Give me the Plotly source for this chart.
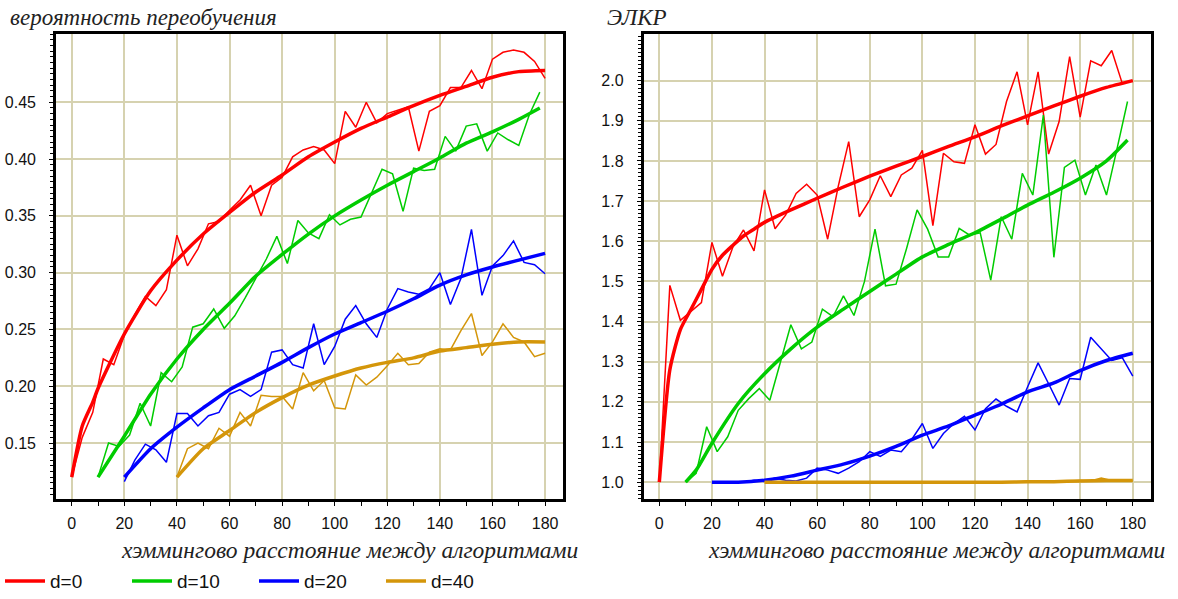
import plotly.graph_objects as go

# --- data ---
# left panel: overfitting probability, right panel: ELKR
x_d0 = list(range(0, 181, 4))
x_d10 = list(range(10, 179, 4))
x_d20 = list(range(20, 181, 4))
x_d40 = list(range(40, 181, 4))

p_d0 = [0.12, 0.155, 0.177, 0.224, 0.219, 0.245, 0.263, 0.279, 0.271, 0.285,
        0.333, 0.306, 0.321, 0.343, 0.345, 0.355, 0.364, 0.377, 0.350, 0.377,
        0.384, 0.402, 0.408, 0.411, 0.408, 0.396, 0.442, 0.428, 0.450, 0.432,
        0.440, 0.443, 0.446, 0.407, 0.442, 0.447, 0.463, 0.463, 0.478, 0.462,
        0.488, 0.494, 0.496, 0.494, 0.486, 0.471]
p_d10 = [0.12, 0.150, 0.147, 0.157, 0.185, 0.165, 0.212, 0.204, 0.217, 0.252,
         0.255, 0.268, 0.251, 0.262, 0.278, 0.295, 0.312, 0.332, 0.308, 0.346,
         0.335, 0.330, 0.351, 0.342, 0.347, 0.349, 0.370, 0.391, 0.387, 0.354,
         0.392, 0.390, 0.391, 0.420, 0.407, 0.429, 0.431, 0.407, 0.423, 0.417,
         0.412, 0.439, 0.459]
p_d20 = [0.116, 0.135, 0.149, 0.144, 0.133, 0.176, 0.176, 0.165, 0.174, 0.177,
         0.193, 0.197, 0.191, 0.197, 0.230, 0.232, 0.219, 0.216, 0.255, 0.219,
         0.235, 0.259, 0.271, 0.255, 0.243, 0.268, 0.286, 0.283, 0.281, 0.286,
         0.300, 0.272, 0.295, 0.338, 0.280, 0.306, 0.315, 0.328, 0.309, 0.307,
         0.299]
p_d40 = [0.12, 0.145, 0.150, 0.145, 0.163, 0.156, 0.177, 0.165, 0.192, 0.191,
         0.191, 0.180, 0.212, 0.196, 0.205, 0.181, 0.180, 0.210, 0.201, 0.208,
         0.218, 0.229, 0.219, 0.220, 0.230, 0.233, 0.232, 0.249, 0.264, 0.227,
         0.239, 0.255, 0.243, 0.239, 0.226, 0.229]

xs_d0 = [0, 4, 8, 10, 20, 30, 40, 50, 60, 70, 80, 90, 100, 110, 120, 130, 140, 150, 160, 170, 180]
ps_d0 = [0.12, 0.165, 0.186, 0.198, 0.246, 0.284, 0.311, 0.334, 0.353, 0.371, 0.386, 0.402,
         0.415, 0.427, 0.437, 0.447, 0.456, 0.464, 0.472, 0.477, 0.478]
xs_d10 = [10, 20, 30, 40, 50, 60, 70, 80, 90, 100, 110, 120, 130, 140, 150, 160, 170, 178]
ps_d10 = [0.12, 0.156, 0.193, 0.224, 0.250, 0.273, 0.297, 0.316, 0.334, 0.350, 0.364, 0.377,
          0.389, 0.401, 0.414, 0.424, 0.435, 0.445]
xs_d20 = [20, 30, 40, 50, 60, 70, 80, 90, 100, 110, 120, 130, 140, 150, 160, 170, 180]
ps_d20 = [0.12, 0.145, 0.164, 0.181, 0.197, 0.209, 0.221, 0.234, 0.246, 0.256, 0.266, 0.277,
          0.289, 0.298, 0.305, 0.311, 0.317]
xs_d40 = [40, 50, 60, 70, 80, 90, 100, 110, 120, 130, 140, 150, 160, 170, 180]
ps_d40 = [0.12, 0.145, 0.161, 0.177, 0.190, 0.201, 0.209, 0.216, 0.221, 0.225, 0.231, 0.234,
          0.237, 0.239, 0.239]

e_d0 = [1.0, 1.49, 1.403, 1.425, 1.447, 1.597, 1.513, 1.586, 1.628, 1.576,
        1.728, 1.631, 1.665, 1.719, 1.742, 1.715, 1.605, 1.736, 1.848, 1.661,
        1.703, 1.763, 1.711, 1.765, 1.782, 1.826, 1.639, 1.819, 1.798, 1.794,
        1.890, 1.817, 1.841, 1.948, 2.022, 1.890, 2.022, 1.817, 1.898, 2.060,
        1.909, 2.049, 2.037, 2.075, 1.993, 2.0]
e_d10 = [1.0, 1.022, 1.138, 1.076, 1.113, 1.179, 1.208, 1.233, 1.204, 1.295,
         1.392, 1.332, 1.349, 1.431, 1.412, 1.464, 1.415, 1.500, 1.630, 1.489,
         1.493, 1.582, 1.678, 1.630, 1.561, 1.561, 1.632, 1.615, 1.621, 1.503,
         1.661, 1.605, 1.769, 1.715, 1.914, 1.560, 1.784, 1.802, 1.715, 1.790,
         1.715, 1.830, 1.948]
e_d20 = [1.0, 1.0, 1.0, 1.0, 1.005, 1.003, 1.01, 1.005, 1.003, 1.01,
         1.035, 1.03, 1.022, 1.035, 1.051, 1.076, 1.064, 1.080, 1.076, 1.107,
         1.146, 1.084, 1.121, 1.146, 1.164, 1.130, 1.183, 1.207, 1.189, 1.175,
         1.237, 1.297, 1.245, 1.192, 1.258, 1.256, 1.361, 1.332, 1.303, 1.310,
         1.264]
e_d40 = [1.0, 1.0, 1.0, 1.0, 1.0, 1.0, 1.0, 1.0, 1.0, 1.0,
         1.0, 1.0, 1.0, 1.0, 1.0, 1.0, 1.0, 1.0, 1.0, 1.0,
         1.0, 1.0, 1.0, 1.0, 1.0, 1.003, 1.003, 1.001, 1.0, 1.003,
         1.004, 1.003, 1.01, 1.004, 1.006, 1.003]

es_x_d0 = [0, 4, 8, 12, 16, 20, 24, 28, 32, 36, 40, 50, 60, 70, 80, 90, 100, 110, 120, 130,
           140, 150, 160, 170, 180]
es_d0 = [1.0, 1.28, 1.38, 1.43, 1.48, 1.53, 1.565, 1.59, 1.613, 1.630, 1.647, 1.678, 1.707,
         1.735, 1.762, 1.787, 1.811, 1.836, 1.860, 1.887, 1.912, 1.937, 1.961, 1.983, 2.0]
es_x_d10 = [10, 14, 20, 30, 40, 50, 60, 70, 80, 90, 100, 110, 120, 130, 140, 150, 160, 170, 178]
es_d10 = [1.0, 1.03, 1.097, 1.196, 1.27, 1.332, 1.386, 1.431, 1.475, 1.518, 1.561, 1.592,
          1.621, 1.655, 1.69, 1.722, 1.757, 1.800, 1.852]
es_x_d20 = [20, 30, 40, 50, 60, 70, 80, 90, 100, 110, 120, 130, 140, 150, 160, 170, 180]
es_d20 = [1.0, 1.0, 1.005, 1.015, 1.03, 1.045, 1.065, 1.089, 1.117, 1.14, 1.167, 1.194,
          1.225, 1.247, 1.278, 1.303, 1.321]
es_x_d40 = [40, 50, 60, 70, 80, 90, 100, 110, 120, 130, 140, 150, 160, 170, 180]
es_d40 = [1.0, 1.0, 1.0, 1.0, 1.0, 1.0, 1.0, 1.0, 1.0, 1.0, 1.001, 1.001, 1.003, 1.004, 1.004]

names = ["d=0", "d=10", "d=20", "d=40"]
colors = ["#ff0000", "#00cc00", "#0000ff", "#d4960a"]

x_ticks = list(range(0, 181, 20))
p_ticks = [0.15, 0.20, 0.25, 0.30, 0.35, 0.40, 0.45]
p_ticktext = ["0.15", "0.20", "0.25", "0.30", "0.35", "0.40", "0.45"]
e_ticks = [1.0, 1.1, 1.2, 1.3, 1.4, 1.5, 1.6, 1.7, 1.8, 1.9, 2.0]
e_ticktext = ["1.0", "1.1", "1.2", "1.3", "1.4", "1.5", "1.6", "1.7", "1.8", "1.9", "2.0"]

left_noisy = [(x_d0, p_d0), (x_d10, p_d10), (x_d20, p_d20), (x_d40, p_d40)]
left_smooth = [(xs_d0, ps_d0), (xs_d10, ps_d10), (xs_d20, ps_d20), (xs_d40, ps_d40)]
right_noisy = [(x_d0, e_d0), (x_d10, e_d10), (x_d20, e_d20), (x_d40, e_d40)]
right_smooth = [(es_x_d0, es_d0), (es_x_d10, es_d10), (es_x_d20, es_d20), (es_x_d40, es_d40)]

fig = go.Figure()

for i in range(4):
    for (xx, yy), (sx, sy), ax in [(left_noisy[i], left_smooth[i], ("x", "y")),
                                   (right_noisy[i], right_smooth[i], ("x2", "y2"))]:
        fig.add_trace(go.Scatter(x=xx, y=yy, mode="lines", xaxis=ax[0], yaxis=ax[1],
                                 line=dict(color=colors[i], width=1.5),
                                 legendgroup=names[i], showlegend=False, hoverinfo="skip"))
        fig.add_trace(go.Scatter(x=sx, y=sy, mode="lines", xaxis=ax[0], yaxis=ax[1],
                                 line=dict(color=colors[i], width=3.5, shape="spline", smoothing=0.6),
                                 name=names[i], legendgroup=names[i],
                                 showlegend=(ax[0] == "x")))

grid_col = "#d6d2b0"
tick_font = dict(family="Liberation Sans, Arial, sans-serif", size=16, color="#111")

xaxis_common = dict(
    range=[-6, 186.8], tickvals=x_ticks, showgrid=True, gridcolor=grid_col, gridwidth=2,
    zeroline=False, showline=True, linecolor="black", linewidth=2.5, mirror=True,
    ticks="outside", ticklen=4, tickcolor="black", tickfont=tick_font, ticklabelstandoff=4,
    automargin=False,
    minor=dict(tickmode="linear", tick0=0, dtick=10, ticklen=4, ticks="outside",
               tickcolor="black", showgrid=False),
)
yaxis_common = dict(
    showgrid=True, gridcolor=grid_col, gridwidth=2,
    zeroline=False, showline=True, linecolor="black", linewidth=2.5, mirror=True,
    ticks="outside", ticklen=4, tickcolor="black", tickfont=tick_font, ticklabelstandoff=10,
    automargin=False,
)

fig.update_layout(
    width=1178, height=599,
    margin=dict(l=0, r=0, t=0, b=0, autoexpand=False),
    paper_bgcolor="white", plot_bgcolor="white",
    xaxis=dict(domain=[0.0475, 0.4779], anchor="y", **xaxis_common),
    xaxis2=dict(domain=[0.5463, 0.9768], anchor="y2", **xaxis_common),
    yaxis=dict(domain=[0.1669, 0.9432], anchor="x", range=[0.1007, 0.5101],
               tickvals=p_ticks, ticktext=p_ticktext,
               minor=dict(tickmode="linear", tick0=0, dtick=0.005, ticklen=3, ticks="outside",
                          tickcolor="black", showgrid=False),
               **yaxis_common),
    yaxis2=dict(domain=[0.1669, 0.9432], anchor="x2", range=[0.958, 2.116],
                tickvals=e_ticks, ticktext=e_ticktext,
                minor=dict(tickmode="linear", tick0=0, dtick=0.01, ticklen=3, ticks="outside",
                           tickcolor="black", showgrid=False),
                **yaxis_common),
    legend=dict(orientation="h", x=0, xanchor="left", y=0.03, yanchor="middle",
                font=dict(family="Liberation Sans, Arial, sans-serif", size=19, color="#111"),
                entrywidth=72, entrywidthmode="pixels", itemwidth=40,
                bgcolor="rgba(0,0,0,0)"),
    showlegend=True,
)

title_font = dict(family="Liberation Serif, Times New Roman, serif", size=23, color="#222")
xtitle_font = dict(family="Liberation Serif, Times New Roman, serif", size=23.5, color="#222")
fig.add_annotation(text="<i>вероятность переобучения</i>", xref="paper", yref="paper",
                   x=8 / 1178, y=0.97, xanchor="left", yanchor="middle", showarrow=False, font=title_font)
fig.add_annotation(text="<i>ЭЛКР</i>", xref="paper", yref="paper",
                   x=605 / 1178, y=0.97, xanchor="left", yanchor="middle", showarrow=False, font=title_font)
fig.add_annotation(text="<i>хэммингово расстояние между алгоритмами</i>", xref="paper", yref="paper",
                   x=580 / 1178, y=0.082, xanchor="right", yanchor="middle", showarrow=False, font=xtitle_font)
fig.add_annotation(text="<i>хэммингово расстояние между алгоритмами</i>", xref="paper", yref="paper",
                   x=1167 / 1178, y=0.082, xanchor="right", yanchor="middle", showarrow=False, font=xtitle_font)

# the page body has an 8px default margin; drop it so paper pixels match the window
fig.write_html("out.html", config={"displayModeBar": False},
               post_script="document.body.style.margin='0';")
